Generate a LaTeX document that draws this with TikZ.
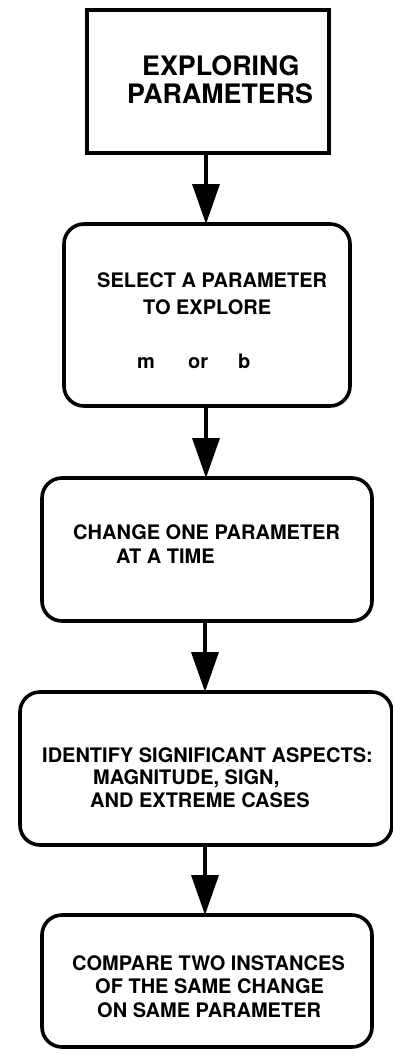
\documentclass[tikz,border=0pt]{standalone}
\usepackage{fontspec}
\setmainfont{TeX Gyre Heros}
\usetikzlibrary{arrows.meta}
\begin{document}
\begin{tikzpicture}[x=1pt,y=-1pt,
  box/.style={draw, line width=3.6pt, inner sep=0pt, outer sep=0pt},
  rbox/.style={box, rounded corners=20pt},
  lbl/.style={anchor=base west, inner sep=0pt, font=\fontsize{20}{24}\selectfont\bfseries},
  ttl/.style={anchor=base west, inner sep=0pt, font=\fontsize{26.8}{30}\selectfont\bfseries},
  arr/.style={line width=3.5pt, -{Triangle[width=27pt,length=40pt]}}]
\useasboundingbox (0,0) rectangle (393,1054);
% box 1
\node[box, minimum width=242pt, minimum height=143pt] (b1) at (208,81.5) {};
\node[ttl] (t1a) at (142,76) {EXPLORING};
\node[ttl] (t1b) at (127,103) {PARAMETERS};
% box 2
\node[rbox, minimum width=286pt, minimum height=182pt] (b2) at (207,315) {};
\node[lbl] (t2a) at (97,287) {SELECT A PARAMETER};
\node[lbl] (t2b) at (143,314) {TO EXPLORE};
\node[lbl] (t2c) at (137,368) {m};
\node[lbl] (t2d) at (188,368) {or};
\node[lbl] (t2e) at (238,368) {b};
% box 3
\node[rbox, minimum width=330pt, minimum height=143pt] (b3) at (207,549.5) {};
\node[lbl] (t3a) at (73,539) {CHANGE ONE PARAMETER};
\node[lbl] (t3b) at (116,563) {AT A TIME};
% box 4
\node[rbox, minimum width=372pt, minimum height=153pt] (b4) at (206,768.5) {};
\node[lbl] (t4a) at (42,762) {IDENTIFY SIGNIFICANT ASPECTS:};
\node[lbl] (t4b) at (93,784) {MAGNITUDE, SIGN,};
\node[lbl] (t4c) at (90,807) {AND EXTREME CASES};
% box 5
\node[rbox, minimum width=330pt, minimum height=132pt] (b5) at (207,981) {};
\node[lbl] (t5a) at (72,970) {COMPARE TWO INSTANCES};
\node[lbl] (t5b) at (95,993) {OF THE SAME CHANGE};
\node[lbl] (t5c) at (97,1017) {ON SAME PARAMETER};
% arrows
\coordinate (ax) at (206,0);
\coordinate (bx) at (205,0);
\draw[arr] (b1.south -| ax) -- (b2.north -| ax);
\draw[arr] (b2.south -| ax) -- (b3.north -| ax);
\draw[arr] (b3.south -| bx) -- (b4.north -| bx);
\draw[arr] (b4.south -| bx) -- (b5.north -| bx);
\end{tikzpicture}
\end{document}
